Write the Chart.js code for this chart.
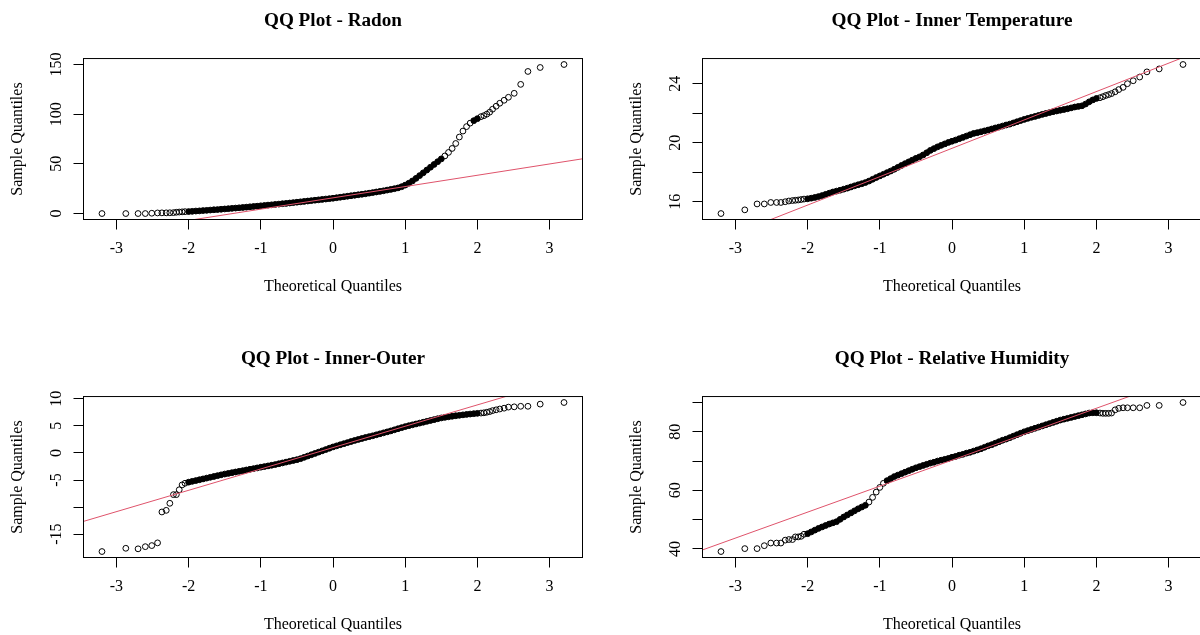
<!DOCTYPE html>
<html>
<head>
<meta charset="utf-8">
<script src="https://cdn.jsdelivr.net/npm/chart.js@4.4.1/dist/chart.umd.min.js"></script>
<style>
  html, body { margin: 0; padding: 0; background: #fff; width: 1200px; height: 635px; overflow: hidden; position: relative; }
  canvas { position: absolute; }
  #radon { left: 0; top: 0; }
  #temp { left: 600px; top: 0; }
  #diff { left: 0; top: 338px; }
  #humid { left: 600px; top: 338px; }
</style>
</head>
<body>
<canvas id="radon" width="600" height="338"></canvas>
<canvas id="temp" width="620" height="338"></canvas>
<canvas id="diff" width="600" height="338"></canvas>
<canvas id="humid" width="620" height="338"></canvas>
<script>
// theoretical normal quantiles (shared by the four panels)
const theoretical = [
  -3.2, -2.87, -2.7, -2.6, -2.51, -2.43, -2.37, -2.31, -2.26, -2.21, -2.17, -2.13, -2.09, -2.05,
  -2.00, -1.95, -1.90, -1.85, -1.80, -1.75, -1.70, -1.65, -1.60, -1.55,
  -1.50, -1.45, -1.40, -1.35, -1.30, -1.25, -1.20, -1.15, -1.10, -1.05,
  -1.00, -0.95, -0.90, -0.85, -0.80, -0.75, -0.70, -0.65, -0.60, -0.55,
  -0.50, -0.45, -0.40, -0.35, -0.30, -0.25, -0.20, -0.15, -0.10, -0.05,
  0.00, 0.05, 0.10, 0.15, 0.20, 0.25, 0.30, 0.35, 0.40, 0.45,
  0.50, 0.55, 0.60, 0.65, 0.70, 0.75, 0.80, 0.85, 0.90, 0.95,
  1.00, 1.05, 1.10, 1.15, 1.20, 1.25, 1.30, 1.35, 1.40, 1.45,
  1.50, 1.55, 1.60, 1.65, 1.70, 1.75, 1.80, 1.85, 1.90, 1.95,
  2.00, 2.05, 2.09, 2.13, 2.17, 2.21, 2.26, 2.31, 2.37, 2.43, 2.51, 2.6, 2.7, 2.87, 3.2
];

// sample quantiles
const radonSample = [
  0, 0, 0, 0, 0.3, 0.6, 0.7, 0.7, 0.8, 0.9, 1.3, 1.5, 1.7, 1.9,
  2.0, 2.2, 2.5, 2.7, 3.0, 3.2, 3.5, 3.8, 4.0, 4.3,
  4.6, 4.9, 5.2, 5.5, 5.8, 6.1, 6.4, 6.8, 7.1, 7.4,
  7.8, 8.1, 8.5, 8.8, 9.2, 9.5, 9.9, 10.2, 10.6, 11.0,
  11.4, 11.8, 12.2, 12.6, 13.0, 13.4, 13.8, 14.2, 14.6, 15.0,
  15.4, 15.9, 16.4, 16.9, 17.4, 17.9, 18.4, 18.9, 19.4, 19.9,
  20.5, 21.1, 21.7, 22.3, 22.9, 23.6, 24.3, 25.0, 25.8, 27.0,
  28.6, 30.5, 32.8, 35.4, 38.2, 41.0, 43.8, 46.6, 49.4, 52.2,
  55.0, 58.0, 61.5, 65.5, 70.5, 77.0, 83.0, 87.5, 91.0, 93.5,
  95.5, 97.5, 98.5, 100, 102, 105, 108, 111, 114, 117, 121, 130, 143, 147, 150
];
const tempSample = [
  15.2, 15.45, 15.85, 15.85, 15.95, 15.95, 15.95, 16.0, 16.05, 16.08, 16.1, 16.12, 16.15, 16.18,
  16.20, 16.24, 16.29, 16.35, 16.42, 16.50, 16.58, 16.66, 16.72, 16.78,
  16.85, 16.92, 17.00, 17.08, 17.15, 17.22, 17.30, 17.40, 17.52, 17.64,
  17.75, 17.86, 17.97, 18.08, 18.20, 18.33, 18.46, 18.58, 18.70, 18.82,
  18.94, 19.04, 19.17, 19.32, 19.48, 19.60, 19.72, 19.82, 19.92, 20.02,
  20.10, 20.18, 20.27, 20.36, 20.45, 20.54, 20.63, 20.68, 20.74, 20.80,
  20.86, 20.93, 21.00, 21.06, 21.13, 21.20, 21.26, 21.34, 21.42, 21.50,
  21.58, 21.65, 21.72, 21.78, 21.85, 21.92, 21.98, 22.04, 22.10, 22.15,
  22.20, 22.25, 22.30, 22.36, 22.42, 22.46, 22.50, 22.62, 22.77, 22.90,
  23.00, 23.05, 23.12, 23.2, 23.26, 23.33, 23.45, 23.6, 23.75, 24.0, 24.2, 24.45, 24.8, 25.0, 25.3
];
const diffSample = [
  -18.2, -17.6, -17.7, -17.3, -17.1, -16.6, -10.9, -10.6, -9.3, -7.7, -7.7, -6.8, -5.9, -5.6,
  -5.40, -5.25, -5.10, -4.95, -4.80, -4.65, -4.50, -4.35, -4.20, -4.05,
  -3.90, -3.78, -3.65, -3.52, -3.40, -3.28, -3.15, -3.02, -2.90, -2.77,
  -2.64, -2.52, -2.40, -2.28, -2.15, -2.00, -1.85, -1.70, -1.55, -1.40,
  -1.25, -1.06, -0.82, -0.58, -0.34, -0.10, 0.14, 0.38, 0.62, 0.86,
  1.10, 1.30, 1.50, 1.70, 1.90, 2.10, 2.30, 2.48, 2.66, 2.84,
  3.00, 3.16, 3.34, 3.52, 3.70, 3.88, 4.06, 4.26, 4.46, 4.66,
  4.85, 5.02, 5.18, 5.34, 5.50, 5.66, 5.82, 5.98, 6.14, 6.30,
  6.45, 6.56, 6.66, 6.76, 6.86, 6.94, 7.02, 7.10, 7.17, 7.24,
  7.30, 7.35, 7.40, 7.50, 7.62, 7.80, 7.95, 8.10, 8.25, 8.45, 8.50, 8.60, 8.60, 9.00, 9.30
];
const humidSample = [
  39.1, 40.1, 40.1, 41.1, 42.0, 42.0, 42.0, 43.0, 43.2, 43.2, 44.1, 44.1, 44.3, 45.0,
  45.2, 45.8, 46.4, 47.0, 47.5, 48.0, 48.5, 48.9, 49.3, 50.1,
  50.9, 51.6, 52.3, 53.0, 53.7, 54.3, 54.9, 56.0, 57.6, 59.4,
  61.0, 62.4, 63.3, 64.0, 64.7, 65.2, 65.7, 66.2, 66.7, 67.2,
  67.7, 68.1, 68.5, 68.9, 69.3, 69.6, 70.0, 70.3, 70.6, 70.9,
  71.3, 71.6, 72.0, 72.3, 72.7, 73.0, 73.4, 73.8, 74.2, 74.7,
  75.2, 75.6, 76.1, 76.6, 77.1, 77.5, 78.0, 78.5, 79.0, 79.5,
  80.0, 80.4, 80.8, 81.2, 81.6, 82.0, 82.4, 82.8, 83.2, 83.6,
  84.0, 84.3, 84.6, 84.9, 85.2, 85.5, 85.8, 86.1, 86.4, 86.5,
  86.5, 86.4, 86.3, 86.3, 86.3, 86.4, 87.5, 88.0, 88.2, 88.2, 88.2, 88.2, 89.0, 89.0, 90.0
];

// qqline as [intercept, slope]
const radonLine = [15.8, 11.37];
const tempLine = [19.62, 1.923];
const diffLine = [0.98, 3.94];
const humidLine = [70.3, 8.87];

const xTicks = [-3, -2, -1, 0, 1, 2, 3];
const xTickLabels = ['-3', '-2', '-1', '0', '1', '2', '3'];
const radonTicks = [0, 50, 100, 150];
const radonTickLabels = ['0', '50', '100', '150'];
const tempTicks = [16, 18, 20, 22, 24];
const tempTickLabels = ['16', '', '20', '', '24'];
const diffTicks = [-15, -10, -5, 0, 5, 10];
const diffTickLabels = ['-15', '', '-5', '0', '5', '10'];
const humidTicks = [40, 50, 60, 70, 80, 90];
const humidTickLabels = ['40', '', '60', '', '80', ''];

Chart.defaults.font.family = "'Liberation Serif', 'Times New Roman', serif";
Chart.defaults.font.size = 16;
Chart.defaults.color = '#000';

// R pads the data range by 4% on each side
function padRange(values) {
  const lo = Math.min(...values), hi = Math.max(...values);
  const pad = (hi - lo) * 0.04;
  return [lo - pad, hi + pad];
}

// where hundreds of real points overlap, the circles merge into a solid band
function inBand(ctx) {
  const data = ctx.dataset.data;
  const i = ctx.dataIndex;
  const sx = ctx.chart.scales.x, sy = ctx.chart.scales.y;
  if (!sx || !sy || Math.abs(data[i].x) > 2.0) return false;
  const px = p => [sx.getPixelForValue(p.x), sy.getPixelForValue(p.y)];
  const here = px(data[i]);
  const gap = j => {
    if (j < 0 || j >= data.length) return Infinity;
    const q = px(data[j]);
    return Math.hypot(q[0] - here[0], q[1] - here[1]);
  };
  return gap(i - 1) < 5 && gap(i + 1) < 5;
}

// box() around the plot region
const frame = {
  id: 'frame',
  afterDraw(chart) {
    const a = chart.chartArea;
    const ctx = chart.ctx;
    ctx.save();
    ctx.strokeStyle = '#000';
    ctx.lineWidth = 1;
    ctx.strokeRect(a.left, a.top, a.right - a.left, a.bottom - a.top);
    ctx.restore();
  }
};

function qqChart(id, title, sample, line, yTicks, yTickLabels, side) {
  const [xMin, xMax] = padRange(theoretical);
  const [yMin, yMax] = padRange(sample);
  new Chart(document.getElementById(id), {
    type: 'scatter',
    data: {
      datasets: [
        {
          data: [
            { x: xMin - 0.1, y: line[0] + line[1] * (xMin - 0.1) },
            { x: xMax + 0.1, y: line[0] + line[1] * (xMax + 0.1) }
          ],
          showLine: true,
          borderColor: '#DF536B',
          borderWidth: 1,
          pointRadius: 0,
          order: 0
        },
        {
          data: theoretical.map((x, i) => ({ x: x, y: sample[i] })),
          pointStyle: 'circle',
          pointRadius: 2.9,
          borderWidth: 1,
          borderColor: '#000',
          pointBackgroundColor: ctx => inBand(ctx) ? '#000' : 'rgba(0,0,0,0)',
          order: 1
        }
      ]
    },
    options: {
      responsive: false,
      animation: false,
      events: [],
      layout: { padding: { left: side.left, right: side.right, top: 0, bottom: 0 } },
      plugins: {
        legend: { display: false },
        tooltip: { enabled: false },
        title: {
          display: true,
          text: title,
          fullSize: false,
          color: '#000',
          font: { size: 19.2, weight: 'bold' },
          padding: { top: 9.2, bottom: 26.3 }
        }
      },
      scales: {
        x: {
          type: 'linear',
          position: 'bottom',
          min: xMin,
          max: xMax,
          bounds: 'data',
          afterBuildTicks: axis => { axis.ticks = xTicks.map(v => ({ value: v })); },
          afterFit: axis => { axis.height = 118.5; },
          grid: { drawOnChartArea: false, tickLength: 10, color: '#000' },
          border: { display: false },
          ticks: { padding: 9.9, maxRotation: 0, autoSkip: false, callback: (v, i) => xTickLabels[i] },
          title: { display: true, text: 'Theoretical Quantiles', padding: { top: 0, bottom: 41.4 } }
        },
        y: {
          type: 'linear',
          position: 'left',
          min: yMin,
          max: yMax,
          bounds: 'data',
          afterBuildTicks: axis => { axis.ticks = yTicks.map(v => ({ value: v })); },
          afterFit: axis => { axis.width = 83.5; },
          grid: { drawOnChartArea: false, tickLength: 10, color: '#000' },
          border: { display: false },
          ticks: {
            padding: side.yPad,
            minRotation: 90,
            maxRotation: 90,
            crossAlign: 'center',
            autoSkip: false,
            callback: (v, i) => yTickLabels[i]
          },
          title: { display: true, text: 'Sample Quantiles', padding: { top: 8, bottom: 0 } }
        }
      }
    },
    plugins: [frame]
  });
}

qqChart('radon', 'QQ Plot - Radon', radonSample, radonLine, radonTicks, radonTickLabels,
  { left: 0, right: 17.5, yPad: 4.5 });
qqChart('temp', 'QQ Plot - Inner Temperature', tempSample, tempLine, tempTicks, tempTickLabels,
  { left: 19, right: 18.5, yPad: 8.5 });
qqChart('diff', 'QQ Plot - Inner-Outer', diffSample, diffLine, diffTicks, diffTickLabels,
  { left: 0, right: 17.5, yPad: 5.8 });
qqChart('humid', 'QQ Plot - Relative Humidity', humidSample, humidLine, humidTicks, humidTickLabels,
  { left: 19, right: 18.5, yPad: 8.5 });
</script>
</body>
</html>
